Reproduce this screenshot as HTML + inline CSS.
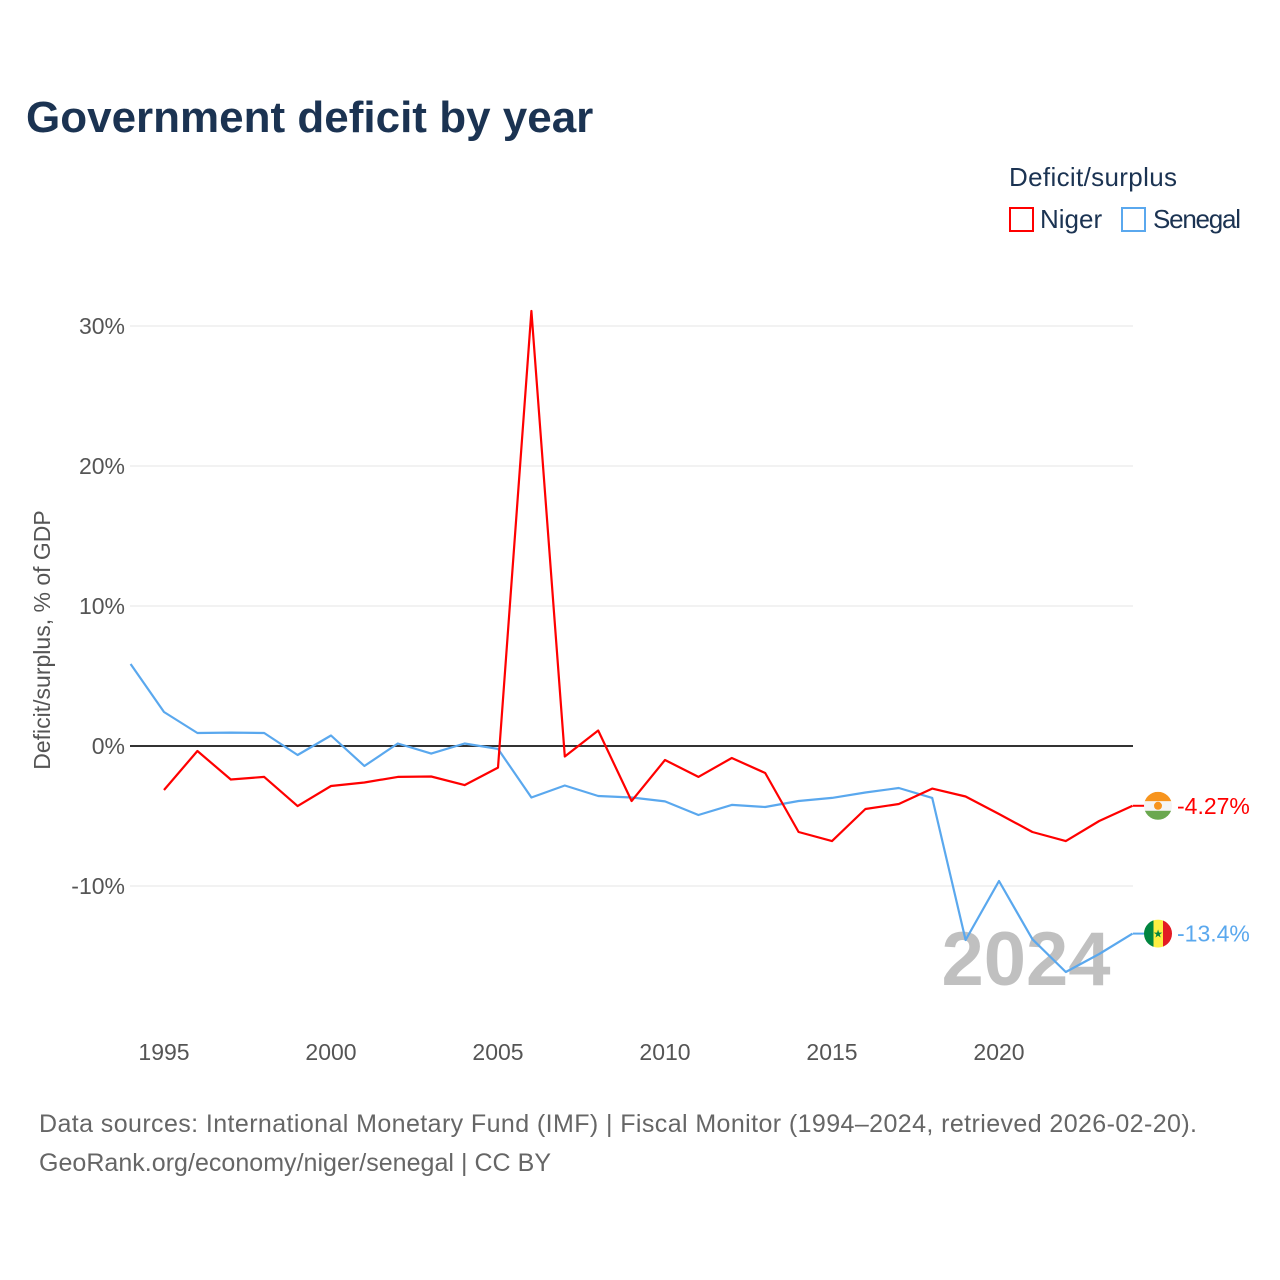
<!DOCTYPE html>
<html><head><meta charset="utf-8"><style>
body{margin:0;background:#fff;}
svg{display:block;font-family:"Liberation Sans",sans-serif;}
</style></head><body>
<svg id="chart" width="1280" height="1280" viewBox="0 0 1280 1280">
<text x="26" y="132" font-size="44" font-weight="bold" fill="#1b3352">Government deficit by year</text>
<text x="1009" y="186" font-size="26" fill="#1b3352" textLength="168">Deficit/surplus</text>
<g><rect x="1010" y="208" width="23" height="23" fill="none" stroke="#ff0000" stroke-width="2"/><text x="1040" y="228" font-size="26" fill="#1b3352">Niger</text></g>
<g><rect x="1122" y="208" width="23" height="23" fill="none" stroke="#5aa8ee" stroke-width="2"/><text x="1153" y="228" font-size="26" fill="#1b3352" textLength="88">Senegal</text></g>
<g id="grid"></g>
<text x="1026" y="985" font-size="76" font-weight="bold" fill="#c0c0c0" text-anchor="middle">2024</text>
<g id="series"></g>
<text transform="translate(50,640) rotate(-90)" font-size="23" fill="#555" text-anchor="middle">Deficit/surplus, % of GDP</text>
<g id="ends"></g>
<text x="39" y="1132" font-size="25" fill="#666" textLength="1158">Data sources: International Monetary Fund (IMF) | Fiscal Monitor (1994–2024, retrieved 2026-02-20).</text>
<text x="39" y="1171" font-size="25" fill="#666" textLength="512">GeoRank.org/economy/niger/senegal | CC BY</text>
</svg>
<script>
const years=[1994,1995,1996,1997,1998,1999,2000,2001,2002,2003,2004,2005,2006,2007,2008,2009,2010,2011,2012,2013,2014,2015,2016,2017,2018,2019,2020,2021,2022,2023,2024];
const niger=[null,-3.14,-0.36,-2.39,-2.21,-4.29,-2.86,-2.61,-2.21,-2.18,-2.79,-1.54,31.07,-0.75,1.11,-3.93,-1.0,-2.21,-0.86,-1.93,-6.14,-6.79,-4.5,-4.14,-3.04,-3.61,-4.86,-6.14,-6.79,-5.36,-4.27];
const senegal=[5.86,2.43,0.93,0.96,0.93,-0.64,0.75,-1.43,0.18,-0.54,0.18,-0.21,-3.68,-2.82,-3.57,-3.68,-3.96,-4.93,-4.21,-4.36,-3.93,-3.71,-3.32,-3.0,-3.71,-13.86,-9.64,-13.8,-16.14,-14.86,-13.4];
const yTicks=[-10,0,10,20,30];
const yTickLabels=["-10%","0%","10%","20%","30%"];
const xTicks=[1995,2000,2005,2010,2015,2020];
const endLabels=["-4.27%","-13.4%"];
const NS="http://www.w3.org/2000/svg";
const x=v=>130.6+(v-1994)*33.4;
const y=v=>746-v*14;
function mk(tag,at,parent){const e=document.createElementNS(NS,tag);for(const k in at)e.setAttribute(k,at[k]);parent.appendChild(e);return e;}
const grid=document.getElementById('grid');
yTicks.forEach((t,i)=>{
  const l=mk('line',{x1:130,x2:1133,y1:y(t),y2:y(t),stroke:t===0?'#333':'#e6e6e6','stroke-width':t===0?2:1},grid);
  
  
  const tx=mk('text',{x:125,y:y(t)+8,'font-size':23,fill:'#555','text-anchor':'end'},grid);
  tx.textContent=yTickLabels[i];
  
  
});
xTicks.forEach(t=>{
  const tx=mk('text',{x:x(t),y:1060,'font-size':23,fill:'#555','text-anchor':'middle'},grid);
  tx.textContent=t;
  
  
});
const sg=document.getElementById('series');
function line(data,color,name){
  let d='';data.forEach((v,i)=>{if(v===null)return;d+=(d?'L':'M')+x(years[i]).toFixed(1)+','+y(v).toFixed(1);});
  const p=mk('path',{d:d,fill:'none',stroke:color,'stroke-width':2.2,'stroke-linejoin':'round'},sg);
  
  
}
line(senegal,'#5aa8ee','senegal-line');
line(niger,'#ff0000','niger-line');
const ends=document.getElementById('ends');
const last=years.length-1;
{const cy=y(niger[last]),cx=1158;
 mk('line',{x1:1133,x2:1145,y1:cy,y2:cy,stroke:'#ff0000','stroke-width':2},ends);
 const g=mk('g',{},ends);
 const cp=mk('clipPath',{id:'cn'},g);mk('circle',{cx:cx,cy:cy,r:14},cp);
 mk('rect',{x:cx-14,y:cy-14,width:28,height:9.5,fill:'#f7941d','clip-path':'url(#cn)'},g);
 mk('rect',{x:cx-14,y:cy-4.5,width:28,height:9.5,fill:'#f4f4f4','clip-path':'url(#cn)'},g);
 mk('rect',{x:cx-14,y:cy+5,width:28,height:9.5,fill:'#6aa84f','clip-path':'url(#cn)'},g);
 mk('circle',{cx:cx,cy:cy,r:4,fill:'#f7941d'},g);
 const t=mk('text',{x:1177,y:cy+8,'font-size':23,fill:'#ff0000'},ends);t.textContent=endLabels[0];
 }
{const cy=y(senegal[last]),cx=1158;
 mk('line',{x1:1133,x2:1145,y1:cy,y2:cy,stroke:'#5aa8ee','stroke-width':2},ends);
 const g=mk('g',{},ends);
 const cp=mk('clipPath',{id:'cs'},g);mk('circle',{cx:cx,cy:cy,r:14},cp);
 mk('rect',{x:cx-14,y:cy-14,width:9.5,height:28,fill:'#00853f','clip-path':'url(#cs)'},g);
 mk('rect',{x:cx-4.5,y:cy-14,width:9.5,height:28,fill:'#fdef42','clip-path':'url(#cs)'},g);
 mk('rect',{x:cx+5,y:cy-14,width:9.5,height:28,fill:'#e31b23','clip-path':'url(#cs)'},g);
 const st=mk('text',{x:cx,y:cy+4,'font-size':11,fill:'#00853f','text-anchor':'middle'},g);st.textContent='★';
 const t=mk('text',{x:1177,y:cy+8,'font-size':23,fill:'#5aa8ee'},ends);t.textContent=endLabels[1];
 }
</script>
</body></html>
